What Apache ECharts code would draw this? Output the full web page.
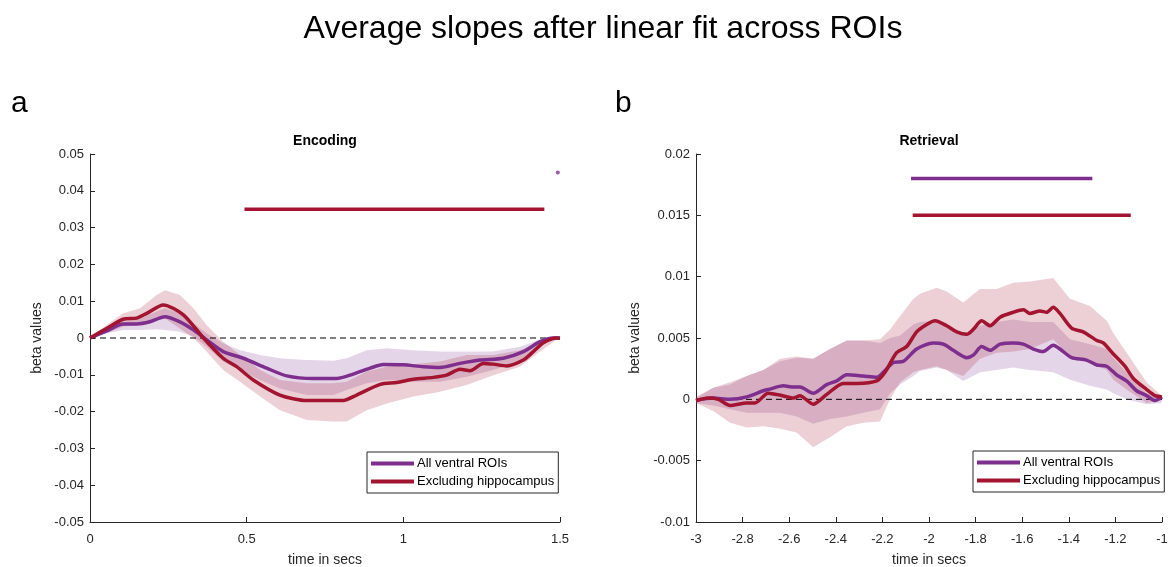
<!DOCTYPE html>
<html>
<head>
<meta charset="utf-8">
<script src="https://cdn.jsdelivr.net/npm/echarts@6/dist/echarts.min.js"></script>
<style>
html,body{margin:0;padding:0;background:#fff;}
#chart{width:1171px;height:567px;}
</style>
</head>
<body>
<div id="chart"></div>
<script>
// ---------- DATA ----------
const seriesNames = ['All ventral ROIs', 'Excluding hippocampus'];
const encXTicks = [0, 0.5, 1, 1.5];
const retXTicks = [-3, -2.8, -2.6, -2.4, -2.2, -2, -1.8, -1.6, -1.4, -1.2, -1];

// Encoding: mean lines [time, beta]
const encPurple = [[0,0],[0.053,0.0019],[0.106,0.0038],[0.149,0.0038],[0.191,0.0044],[0.239,0.0058],[0.287,0.0044],[0.33,0.0022],[0.372,-0.0005],[0.425,-0.0037],[0.489,-0.0055],[0.564,-0.0082],[0.628,-0.0103],[0.713,-0.011],[0.787,-0.011],[0.84,-0.0098],[0.894,-0.0082],[0.936,-0.0072],[1.0,-0.0073],[1.064,-0.0078],[1.117,-0.008],[1.181,-0.0069],[1.245,-0.006],[1.319,-0.0055],[1.383,-0.0037],[1.436,-0.001],[1.48,0],[1.5,0]];
const encRed = [[0,0],[0.053,0.0026],[0.106,0.0051],[0.149,0.0054],[0.181,0.0067],[0.234,0.009],[0.298,0.0063],[0.362,0],[0.425,-0.0055],[0.468,-0.0078],[0.521,-0.0114],[0.606,-0.0155],[0.692,-0.017],[0.808,-0.017],[0.851,-0.0155],[0.926,-0.0126],[0.979,-0.0121],[1.032,-0.0112],[1.096,-0.0107],[1.138,-0.0101],[1.181,-0.0085],[1.213,-0.0089],[1.255,-0.0069],[1.287,-0.0071],[1.33,-0.0076],[1.383,-0.006],[1.415,-0.0037],[1.447,-0.0013],[1.489,0],[1.5,-0.0001]];
// Encoding: error bands [time, lower, upper]
const encPurpleBand = [[0,0,0],[0.053,0.0013,0.0026],[0.106,0.0022,0.0044],[0.16,0.0022,0.0053],[0.213,0.0024,0.0072],[0.239,0.0022,0.0081],[0.287,0.0017,0.0067],[0.33,0.0004,0.004],[0.372,-0.0024,0.0013],[0.425,-0.0064,-0.0014],[0.479,-0.0087,-0.0033],[0.543,-0.0114,-0.0046],[0.606,-0.0137,-0.0055],[0.692,-0.0155,-0.006],[0.777,-0.0155,-0.0062],[0.819,-0.0141,-0.0055],[0.883,-0.0123,-0.0033],[0.947,-0.0114,-0.0028],[1.032,-0.0119,-0.0033],[1.117,-0.0119,-0.0037],[1.202,-0.0105,-0.0037],[1.287,-0.0087,-0.0037],[1.372,-0.0064,-0.0024],[1.436,-0.0019,-0.0005],[1.489,0,0]];
const encRedBand = [[0,0,0],[0.053,0.0013,0.0035],[0.106,0.0031,0.0067],[0.16,0.0035,0.0081],[0.213,0.0058,0.0117],[0.239,0.0053,0.013],[0.287,0.0026,0.0117],[0.33,0,0.0081],[0.372,-0.0037,0.0035],[0.425,-0.0087,-0.001],[0.479,-0.0119,-0.0046],[0.543,-0.0159,-0.0087],[0.606,-0.0196,-0.0114],[0.692,-0.0223,-0.0123],[0.777,-0.0227,-0.0123],[0.819,-0.0227,-0.0119],[0.883,-0.0196,-0.0091],[0.947,-0.0178,-0.0078],[1.032,-0.0159,-0.0071],[1.117,-0.0146,-0.0064],[1.202,-0.0128,-0.0046],[1.287,-0.0101,-0.0046],[1.372,-0.0078,-0.0033],[1.436,-0.0037,-0.001],[1.489,-0.0005,0]];
// Encoding: significance markers
const encRedSig = [[0.493,0.035],[1.45,0.035]];
const encPurpleSig = [[1.493,0.045]];

// Retrieval: mean lines
const retPurple = [[-3,-0.0001],[-2.93,0.0001],[-2.854,0],[-2.782,0.0002],[-2.711,0.0007],[-2.69,0.0008],[-2.625,0.0011],[-2.582,0.001],[-2.554,0.001],[-2.497,0.0005],[-2.439,0.0012],[-2.396,0.0015],[-2.353,0.002],[-2.282,0.0019],[-2.224,0.0018],[-2.196,0.0022],[-2.153,0.003],[-2.11,0.0031],[-2.053,0.0041],[-1.982,0.0046],[-1.938,0.0045],[-1.896,0.004],[-1.838,0.0034],[-1.81,0.0036],[-1.774,0.0043],[-1.738,0.004],[-1.695,0.0045],[-1.638,0.0046],[-1.595,0.0045],[-1.552,0.0041],[-1.51,0.0039],[-1.467,0.0044],[-1.438,0.0041],[-1.388,0.0034],[-1.324,0.0032],[-1.28,0.0028],[-1.238,0.0027],[-1.195,0.002],[-1.152,0.0015],[-1.109,0.0007],[-1.066,0.0003],[-1.03,-0.0001],[-1.0,0.0002]];
const retRed = [[-3,-0.0001],[-2.947,0.0001],[-2.904,0],[-2.854,-0.0005],[-2.782,-0.0003],[-2.747,-0.0003],[-2.69,0.0005],[-2.64,0.00035],[-2.582,0.0001],[-2.554,0.0003],[-2.497,-0.0004],[-2.439,0.0004],[-2.368,0.0013],[-2.31,0.0013],[-2.224,0.0015],[-2.189,0.0022],[-2.139,0.0038],[-2.096,0.0043],[-2.053,0.0055],[-2.01,0.0061],[-1.974,0.0064],[-1.924,0.006],[-1.881,0.0055],[-1.838,0.0053],[-1.81,0.0057],[-1.774,0.0064],[-1.738,0.006],[-1.695,0.0067],[-1.638,0.0071],[-1.595,0.0073],[-1.567,0.007],[-1.524,0.0072],[-1.495,0.0071],[-1.467,0.0075],[-1.438,0.007],[-1.388,0.0058],[-1.338,0.0055],[-1.28,0.0048],[-1.252,0.0046],[-1.209,0.0037],[-1.159,0.0027],[-1.123,0.0017],[-1.066,0.0008],[-1.03,0.0003],[-1.0,0.0002]];
// Retrieval: error bands [time, lower, upper]
const retPurpleBand = [[-3,-0.0003,0.0001],[-2.926,-0.0005,0.00095],[-2.854,-0.0008,0.0012],[-2.782,-0.0011,0.0019],[-2.711,-0.0011,0.0024],[-2.639,-0.0011,0.0031],[-2.568,-0.0014,0.0034],[-2.497,-0.002,0.0033],[-2.425,-0.0016,0.0041],[-2.353,-0.0014,0.0048],[-2.282,-0.0011,0.0048],[-2.21,-0.0008,0.0046],[-2.167,0.0005,0.005],[-2.124,0.0012,0.0052],[-2.067,0.0019,0.0061],[-2.039,0.0023,0.0063],[-1.967,0.0026,0.0064],[-1.924,0.0024,0.006],[-1.853,0.0015,0.0052],[-1.781,0.0022,0.006],[-1.71,0.0024,0.0063],[-1.638,0.0026,0.0065],[-1.567,0.0024,0.0063],[-1.467,0.0022,0.0063],[-1.395,0.0016,0.0049],[-1.309,0.0011,0.0045],[-1.237,0.0008,0.0041],[-1.209,0.0005,0.0034],[-1.152,0,0.0022],[-1.066,-0.0004,0.0005],[-1.001,-0.0003,0.0001]];
const retRedBand = [[-3,-0.0003,0.0002],[-2.926,-0.00095,0.00095],[-2.854,-0.0019,0.0014],[-2.782,-0.0023,0.0019],[-2.711,-0.0022,0.0024],[-2.639,-0.0024,0.0033],[-2.568,-0.0027,0.0035],[-2.497,-0.0039,0.0033],[-2.425,-0.0031,0.0041],[-2.353,-0.0022,0.0048],[-2.282,-0.0019,0.0048],[-2.21,-0.0018,0.0049],[-2.167,0,0.0057],[-2.124,0.0014,0.0068],[-2.067,0.0022,0.0082],[-2.039,0.0024,0.0086],[-1.967,0.0027,0.0091],[-1.924,0.0024,0.0088],[-1.853,0.0019,0.0079],[-1.781,0.0033,0.009],[-1.71,0.0038,0.009],[-1.638,0.0039,0.0095],[-1.567,0.0041,0.0096],[-1.467,0.0049,0.0099],[-1.395,0.0035,0.0082],[-1.309,0.003,0.0076],[-1.237,0.0024,0.0064],[-1.209,0.0016,0.0054],[-1.152,0.0008,0.0038],[-1.066,-0.0003,0.0014],[-1.001,-0.0001,0.0003]];
// Retrieval: significance bars
const retPurpleSig = [[-2.077,0.018],[-1.299,0.018]];
const retRedSig = [[-2.07,0.015],[-1.134,0.015]];

// ---------- STYLE ----------
const PURPLE = '#7E2F8E';
const RED = '#A2142F';
const PURPLE_FILL = 'rgba(126,47,142,0.2)';
const RED_FILL = 'rgba(162,20,47,0.2)';
const FONT = "'Liberation Sans', Arial, Helvetica, sans-serif";
const AX = '#262626';

function fmt(v){ return String(parseFloat(v.toFixed(4))); }

function bandSeries(data, fill, idx){
  return {
    type: 'custom', xAxisIndex: idx, yAxisIndex: idx, silent: true, z: 1,
    data: data, encode: {x: 0, y: [1, 2]},
    renderItem: function(params, api){
      if (params.dataIndex !== 0) return null;
      const pts = [];
      for (let i = 0; i < data.length; i++) pts.push(api.coord([data[i][0], data[i][2]]));
      for (let i = data.length - 1; i >= 0; i--) pts.push(api.coord([data[i][0], data[i][1]]));
      return {type: 'polygon', shape: {points: pts}, style: {fill: fill, stroke: null}};
    }
  };
}
function lineSeries(name, data, color, idx, extra){
  return Object.assign({
    name: name, type: 'line', xAxisIndex: idx, yAxisIndex: idx, data: data,
    color: color, showSymbol: false, symbol: 'none', smooth: 0.25, z: 3,
    lineStyle: {color: color, width: 3.5}, silent: true
  }, extra || {});
}
function sigSeries(data, color, idx, extra){
  return Object.assign({
    type: 'line', xAxisIndex: idx, yAxisIndex: idx, data: data,
    showSymbol: false, symbol: 'none', z: 4, silent: true,
    lineStyle: {color: color, width: 3.5}
  }, extra || {});
}
function zeroLine(idx, xmin, xmax){
  return {
    type: 'line', xAxisIndex: idx, yAxisIndex: idx, data: [[xmin,0],[xmax,0]],
    showSymbol: false, symbol: 'none', z: 2, silent: true,
    lineStyle: {color: '#000', width: 1, type: [6, 4]}
  };
}
function xAxis(idx, min, max, interval){
  return {
    type: 'value', gridIndex: idx, min: min, max: max, interval: interval,
    name: 'time in secs', nameLocation: 'middle', nameGap: 31,
    nameTextStyle: {fontFamily: FONT, fontSize: 14, color: AX},
    axisLine: {show: true, onZero: false, lineStyle: {color: AX, width: 1}},
    axisTick: {show: true, inside: true, length: 5, lineStyle: {color: AX}},
    axisLabel: {fontFamily: FONT, fontSize: 13, color: AX, margin: 11, formatter: fmt},
    splitLine: {show: false}
  };
}
function yAxis(idx, min, max, interval, gap){
  return {
    type: 'value', gridIndex: idx, min: min, max: max, interval: interval,
    name: 'beta values', nameLocation: 'middle', nameGap: gap, nameRotate: 90,
    nameTextStyle: {fontFamily: FONT, fontSize: 14, color: AX},
    axisLine: {show: true, onZero: false, lineStyle: {color: AX, width: 1}},
    axisTick: {show: true, inside: true, length: 5, lineStyle: {color: AX}},
    axisLabel: {fontFamily: FONT, fontSize: 13, color: AX, margin: 6, formatter: fmt},
    splitLine: {show: false}
  };
}
function legend(left, top){
  return {
    left: left, top: top, orient: 'vertical', data: seriesNames,
    icon: 'rect', itemWidth: 43, itemHeight: 4, itemGap: 3,
    backgroundColor: '#fff', borderColor: AX, borderWidth: 1, borderRadius: 0,
    padding: [4, 4, 4, 4], selectedMode: false,
    textStyle: {fontFamily: FONT, fontSize: 13, color: '#000', lineHeight: 15, padding: [0,0,0,-2]}
  };
}

const chart = echarts.init(document.getElementById('chart'), null, {renderer: 'canvas'});
chart.setOption({
  animation: false,
  backgroundColor: '#fff',
  grid: [
    {left: 90, top: 154, right: 611, bottom: 45, containLabel: false, outerBoundsMode: 'none'},
    {left: 696, top: 154, right: 9, bottom: 45, containLabel: false, outerBoundsMode: 'none'}
  ],
  xAxis: [xAxis(0, 0, 1.5, 0.5), xAxis(1, -3, -1, 0.2)],
  yAxis: [yAxis(0, -0.05, 0.05, 0.01, 46), yAxis(1, -0.01, 0.02, 0.005, 54)],
  legend: [legend(367, 452), legend(973, 451)],
  graphic: [
    {type: 'text', x: 603, y: 29, z: 10,
     style: {text: 'Average slopes after linear fit across ROIs', font: '32px ' + FONT, fill: '#000', textAlign: 'center', textVerticalAlign: 'middle'}},
    {type: 'text', x: 11, y: 104, style: {text: 'a', font: '30px ' + FONT, fill: '#000', textVerticalAlign: 'middle'}},
    {type: 'text', x: 615, y: 104, style: {text: 'b', font: '30px ' + FONT, fill: '#000', textVerticalAlign: 'middle'}},
    {type: 'text', x: 325, y: 141, style: {text: 'Encoding', font: 'bold 14px ' + FONT, fill: '#000', textAlign: 'center', textVerticalAlign: 'middle'}},
    {type: 'text', x: 929, y: 141, style: {text: 'Retrieval', font: 'bold 14px ' + FONT, fill: '#000', textAlign: 'center', textVerticalAlign: 'middle'}}
  ],
  series: [
    bandSeries(encPurpleBand, PURPLE_FILL, 0),
    bandSeries(encRedBand, RED_FILL, 0),
    zeroLine(0, 0, 1.5),
    lineSeries(seriesNames[0], encPurple, PURPLE, 0),
    lineSeries(seriesNames[1], encRed, RED, 0),
    sigSeries(encRedSig, RED, 0),
    {type: 'scatter', xAxisIndex: 0, yAxisIndex: 0, data: encPurpleSig, symbolSize: 4, itemStyle: {color: PURPLE}, z: 4, silent: true},

    bandSeries(retPurpleBand, PURPLE_FILL, 1),
    bandSeries(retRedBand, RED_FILL, 1),
    zeroLine(1, -3, -1),
    lineSeries(seriesNames[0], retPurple, PURPLE, 1),
    lineSeries(seriesNames[1], retRed, RED, 1),
    sigSeries(retPurpleSig, PURPLE, 1),
    sigSeries(retRedSig, RED, 1)
  ]
});
</script>
</body>
</html>
